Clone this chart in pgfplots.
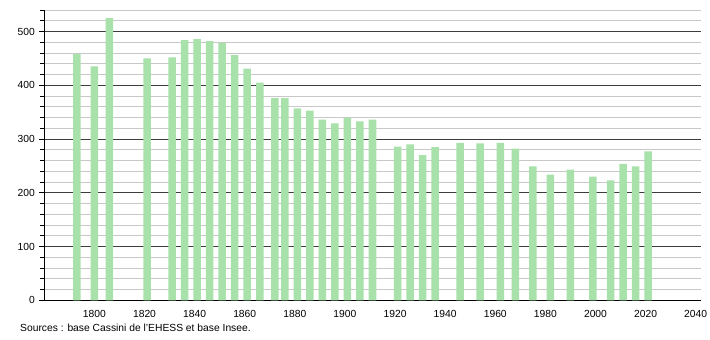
\documentclass[border=0pt]{standalone}
\usepackage{pgfplots}
\pgfplotsset{compat=1.18}
\usepackage{fontspec}
\setmainfont{Liberation Sans}
\definecolor{barg}{RGB}{168,225,170}
\definecolor{majg}{RGB}{60,60,60}
\definecolor{ming}{RGB}{200,200,200}
\newcommand{\lf}{\fontsize{10.3bp}{12bp}\selectfont}
\begin{document}
\begin{tikzpicture}
\useasboundingbox (-44.3bp,-39.7bp) rectangle (665.7bp,300.3bp);
\begin{axis}[
  at={(0,0)}, anchor=south west,
  scale only axis,
  width=656.4bp, height=290.3bp,
  xmin=1780, xmax=2042,
  ymin=0, ymax=540,
  axis x line=bottom, axis y line=left,
  axis line style={-, black, line width=0.8bp},
  xtick={1800,1820,...,2040},
  ytick={0,100,...,500},
  minor ytick={20,40,60,80,120,140,160,180,220,240,260,280,320,340,360,380,420,440,460,480,520,540},
  x tick label style={/pgf/number format/1000 sep={}},
  /pgf/number format/assume math mode=true,
  tick label style={font=\lf},
  xtick style={draw=none},
  ytick style={black, line width=0.8bp},
  tick align=outside,
  major tick length=5bp, minor tick length=4bp,
  ymajorgrids, yminorgrids,
  major grid style={majg, line width=0.8bp},
  minor grid style={ming, line width=0.8bp},
  ybar, bar width=3,
  yticklabel style={xshift=-1bp},
  xticklabel style={yshift=-1bp},
  clip=false,
]
\addplot[fill=barg, draw=none] coordinates {
(1793,458) (1800,435) (1806,525) (1821,450) (1831,452) (1836,484) (1841,486)
(1846,482) (1851,479) (1856,456) (1861,431) (1866,405) (1872,376) (1876,376)
(1881,357) (1886,353) (1891,336) (1896,329) (1901,340) (1906,333) (1911,336)
(1921,286) (1926,290) (1931,270) (1936,285) (1946,293) (1954,292) (1962,293)
(1968,282) (1975,249) (1982,234) (1990,243) (1999,230) (2006,223) (2011,254)
(2016,249) (2021,277)
};
\end{axis}
\node[anchor=base west, inner sep=0pt, font=\lf] at (-24.3bp,-31bp) {Sources : base Cassini de l'EHESS et base Insee.};
\end{tikzpicture}
\end{document}
